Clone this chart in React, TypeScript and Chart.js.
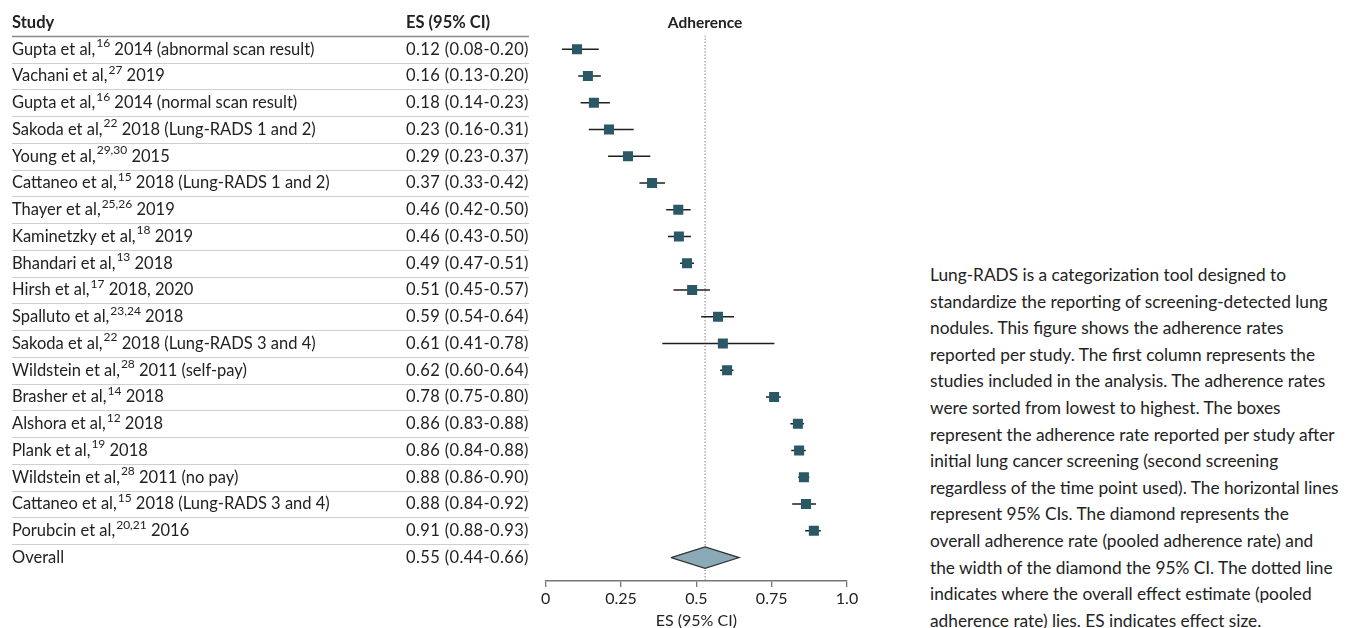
import React, { useEffect, useRef } from "react";
import { Chart, registerables } from "chart.js";

Chart.register(...registerables);

const STUDY_AUTHORS = ["Gupta et al,", "Vachani et al,", "Gupta et al,", "Sakoda et al,", "Young et al,", "Cattaneo et al,", "Thayer et al,", "Kaminetzky et al,", "Bhandari et al,", "Hirsh et al,", "Spalluto et al,", "Sakoda et al,", "Wildstein et al,", "Brasher et al,", "Alshora et al,", "Plank et al,", "Wildstein et al,", "Cattaneo et al,", "Porubcin et al,"];
const STUDY_REFS = ["16", "27", "16", "22", "29,30", "15", "25,26", "18", "13", "17", "23,24", "22", "28", "14", "12", "19", "28", "15", "20,21"];
const STUDY_DETAILS = ["2014 (abnormal scan result)", "2019", "2014 (normal scan result)", "2018 (Lung-RADS 1 and 2)", "2015", "2018 (Lung-RADS 1 and 2)", "2019", "2019", "2018", "2018, 2020", "2018", "2018 (Lung-RADS 3 and 4)", "2011 (self-pay)", "2018", "2018", "2018", "2011 (no pay)", "2018 (Lung-RADS 3 and 4)", "2016"];
const ES_TEXT = ["0.12 (0.08-0.20)", "0.16 (0.13-0.20)", "0.18 (0.14-0.23)", "0.23 (0.16-0.31)", "0.29 (0.23-0.37)", "0.37 (0.33-0.42)", "0.46 (0.42-0.50)", "0.46 (0.43-0.50)", "0.49 (0.47-0.51)", "0.51 (0.45-0.57)", "0.59 (0.54-0.64)", "0.61 (0.41-0.78)", "0.62 (0.60-0.64)", "0.78 (0.75-0.80)", "0.86 (0.83-0.88)", "0.86 (0.84-0.88)", "0.88 (0.86-0.90)", "0.88 (0.84-0.92)", "0.91 (0.88-0.93)"];

// plotted positions
const EST = [0.104, 0.14, 0.16, 0.21, 0.273, 0.353, 0.44, 0.442, 0.469, 0.486, 0.572, 0.588, 0.602, 0.758, 0.837, 0.841, 0.857, 0.864, 0.89];
const LO = [0.054, 0.108, 0.116, 0.143, 0.207, 0.311, 0.4, 0.406, 0.446, 0.424, 0.516, 0.387, 0.579, 0.731, 0.812, 0.815, 0.838, 0.818, 0.861];
const HI = [0.176, 0.183, 0.213, 0.292, 0.347, 0.396, 0.481, 0.482, 0.492, 0.545, 0.625, 0.759, 0.623, 0.78, 0.857, 0.863, 0.875, 0.897, 0.913];

const OVERALL_LABEL = "Overall";
const OVERALL_TEXT = "0.55 (0.44-0.66)";
const OVERALL_EST = 0.529;
const OVERALL_LO = 0.416;
const OVERALL_HI = 0.642;

const X_TICK_LABELS = ["0", "0.25", "0.5", "0.75", "1.0"];
const HEADER_STUDY = "Study";
const HEADER_ES = "ES (95% CI)";
const PLOT_TITLE = "Adherence";
const X_TITLE = "ES (95% CI)";

const PARAGRAPH_LINES = [
  "Lung-RADS is a categorization tool designed to",
  "standardize the reporting of screening-detected lung",
  "nodules. This figure shows the adherence rates",
  "reported per study. The first column represents the",
  "studies included in the analysis. The adherence rates",
  "were sorted from lowest to highest. The boxes",
  "represent the adherence rate reported per study after",
  "initial lung cancer screening (second screening",
  "regardless of the time point used). The horizontal lines",
  "represent 95% CIs. The diamond represents the",
  "overall adherence rate (pooled adherence rate) and",
  "the width of the diamond the 95% CI. The dotted line",
  "indicates where the overall effect estimate (pooled",
  "adherence rate) lies. ES indicates effect size.",
];

const FONT = "Lato";
const TEXT_COLOR = "#222";
const SQUARE_COLOR = "#2b5866";
const DIAMOND_COLOR = "#8aaab7";

const N = EST.length;
const OVERALL_ROW = N;

const tablePlugin = {
  id: "forestTable",
  afterDraw(chart: any) {
    const ctx = chart.ctx;
    const y = chart.scales.y;
    const x = chart.scales.x;
    const leftX = 12;
    const esX = 406;
    const lineEnd = 529;
    ctx.save();
    ctx.strokeStyle = "#8a8a8a";
    ctx.lineWidth = 1.5;
    ctx.beginPath();
    const hy = Math.round(y.getPixelForValue(-0.5)) + 0.5;
    ctx.moveTo(leftX, hy);
    ctx.lineTo(lineEnd, hy);
    ctx.stroke();
    ctx.strokeStyle = "#cfcfcf";
    ctx.lineWidth = 1.2;
    for (let i = 0; i < N; i++) {
      const ly = Math.round(y.getPixelForValue(i + 0.5)) + 0.5;
      ctx.beginPath();
      ctx.moveTo(leftX, ly);
      ctx.lineTo(lineEnd, ly);
      ctx.stroke();
    }
    ctx.fillStyle = TEXT_COLOR;
    ctx.textBaseline = "middle";
    ctx.textAlign = "left";
    const headY = y.getPixelForValue(-1);
    ctx.font = `bold 16.5px ${FONT}`;
    ctx.fillText(HEADER_STUDY, leftX, headY);
    ctx.fillText(HEADER_ES, esX, headY);
    ctx.font = `bold 15.5px ${FONT}`;
    ctx.textAlign = "center";
    ctx.fillText(PLOT_TITLE, x.getPixelForValue(OVERALL_EST), headY);
    ctx.textAlign = "left";
    for (let i = 0; i < N; i++) {
      const ry = y.getPixelForValue(i);
      ctx.font = `16.5px ${FONT}`;
      ctx.fillText(STUDY_AUTHORS[i], leftX, ry);
      let cx = leftX + ctx.measureText(STUDY_AUTHORS[i]).width + 1;
      ctx.font = `12px ${FONT}`;
      ctx.fillText(STUDY_REFS[i], cx, ry - 6);
      cx += ctx.measureText(STUDY_REFS[i]).width;
      ctx.font = `16.5px ${FONT}`;
      cx += ctx.measureText(" ").width;
      ctx.fillText(STUDY_DETAILS[i], cx, ry);
      (ctx as any).letterSpacing = "0.37px";
      ctx.fillText(ES_TEXT[i], esX, ry);
      (ctx as any).letterSpacing = "0px";
    }
    const oy = y.getPixelForValue(OVERALL_ROW);
    ctx.fillText(OVERALL_LABEL, leftX, oy);
    (ctx as any).letterSpacing = "0.37px";
    ctx.fillText(OVERALL_TEXT, esX, oy);
    (ctx as any).letterSpacing = "0px";
    ctx.restore();
  },
};

export default function App() {
  const ref = useRef<HTMLCanvasElement>(null);
  useEffect(() => {
    if (!ref.current) return;
    const ciSets = EST.map((_, i) => ({
      type: "line" as const,
      data: [
        { x: LO[i], y: i },
        { x: HI[i], y: i },
      ],
      borderColor: "#1e1e1e",
      borderWidth: 1.5,
      pointRadius: 0,
      showLine: true,
      order: 3,
    }));
    const chart = new Chart(ref.current, {
      type: "scatter",
      data: {
        datasets: [
          {
            data: EST.map((v, i) => ({ x: v, y: i })),
            pointStyle: "rect",
            pointRadius: 7.1,
            pointHoverRadius: 7.1,
            backgroundColor: SQUARE_COLOR,
            borderWidth: 0,
            order: 0,
          } as any,
          {
            type: "line",
            data: [
              { x: OVERALL_LO, y: OVERALL_ROW },
              { x: OVERALL_EST, y: OVERALL_ROW - 0.4 },
              { x: OVERALL_HI, y: OVERALL_ROW },
              { x: OVERALL_EST, y: OVERALL_ROW + 0.4 },
              { x: OVERALL_LO, y: OVERALL_ROW },
            ],
            borderColor: "#333",
            borderWidth: 1.2,
            backgroundColor: DIAMOND_COLOR,
            fill: "shape",
            pointRadius: 0,
            tension: 0,
            showLine: true,
            order: 1,
          },
          ...ciSets,
          {
            type: "line",
            data: [
              { x: OVERALL_EST, y: -0.52 },
              { x: OVERALL_EST, y: 19.88 },
            ],
            borderColor: "#666",
            borderWidth: 1,
            borderDash: [1.2, 2],
            pointRadius: 0,
            showLine: true,
            order: 4,
          },
        ],
      },
      options: {
        responsive: false,
        animation: false,
        devicePixelRatio: 1,
        layout: { padding: { left: 545.7, right: 53, top: 35.4, bottom: 0 } },
        plugins: { legend: { display: false }, tooltip: { enabled: false } },
        scales: {
          x: {
            type: "linear",
            min: 0,
            max: 1,
            grid: { display: true, drawOnChartArea: false, drawTicks: true, tickLength: 6, color: "#777", lineWidth: 1.3 },
            border: { display: true, color: "#777", width: 1.5 },
            ticks: {
              stepSize: 0.25,
              padding: 2.4,
              color: TEXT_COLOR,
              font: { family: FONT, size: 16 },
              callback: (_v: any, i: number) => X_TICK_LABELS[i],
            },
            title: {
              display: true,
              text: X_TITLE,
              color: TEXT_COLOR,
              font: { family: FONT, size: 16 },
              padding: { top: 0, bottom: -2.3 },
            },
          },
          y: { type: "linear", min: -0.52, max: 19.88, reverse: true, display: false },
        },
      },
      plugins: [tablePlugin],
    });
    return () => chart.destroy();
  }, []);
  return (
    <div style={{ position: "fixed", left: 0, top: 0, width: 1358, height: 628, background: "#fff", overflow: "hidden" }}>
      <canvas ref={ref} width={900} height={628} style={{ position: "absolute", left: 0, top: 0 }} />
      <div
        style={{
          position: "absolute",
          left: 930,
          top: 262,
          fontFamily: FONT,
          fontSize: 17.3,
          lineHeight: "26.6px",
          color: TEXT_COLOR,
          whiteSpace: "nowrap",
        }}
      >
        {PARAGRAPH_LINES.map((l, i) => (
          <div key={i}>{l}</div>
        ))}
      </div>
    </div>
  );
}
